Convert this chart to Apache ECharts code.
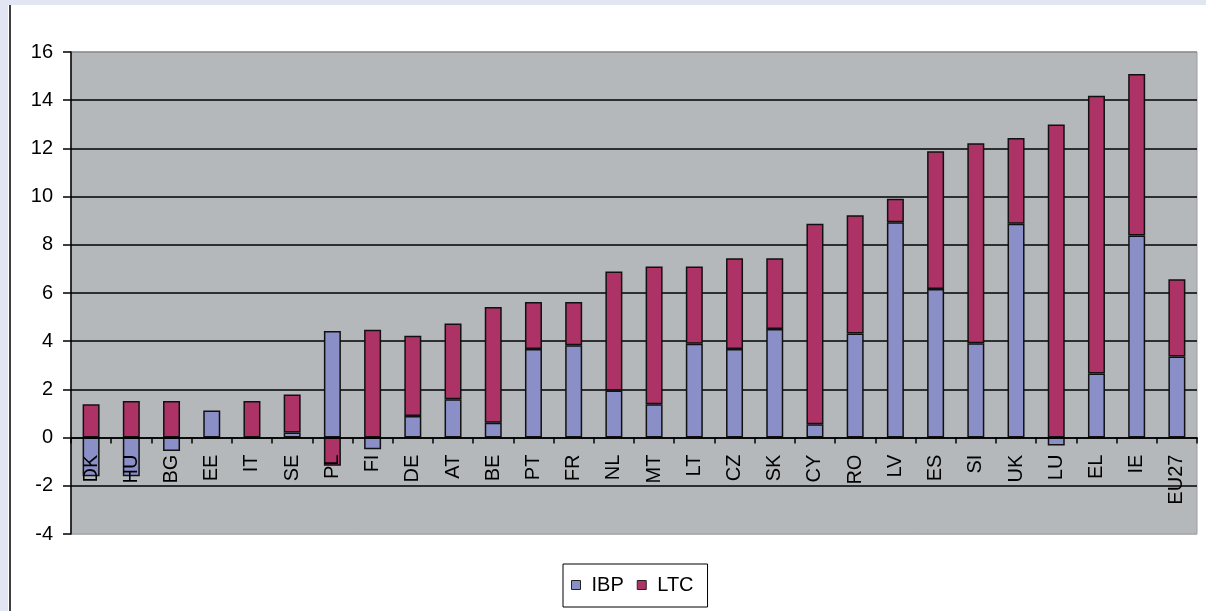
<!DOCTYPE html>
<html>
<head>
<meta charset="utf-8">
<script src="https://cdn.jsdelivr.net/npm/echarts@6/dist/echarts.min.js"></script>
<style>
html,body{margin:0;padding:0;background:#fff;}
#c{width:1206px;height:611px;}
</style>
</head>
<body>
<div id="c"></div>
<script>
const categories = ['DK','HU','BG','EE','IT','SE','PL','FI','DE','AT','BE','PT','FR','NL','MT','LT','CZ','SK','CY','RO','LV','ES','SI','UK','LU','EL','IE','EU27'];
const ibp = [-1.6,-1.6,-0.56,1.12,-0.06,0.21,4.42,-0.48,0.9,1.59,0.62,3.68,3.83,1.95,1.38,3.89,3.68,4.51,0.55,4.32,8.94,6.17,3.91,8.87,-0.33,2.66,8.39,3.37];
const ltc = [1.38,1.52,1.52,-0.06,1.52,1.58,-1.17,4.48,3.33,3.14,4.8,1.95,1.8,4.94,5.72,3.21,3.76,2.93,8.32,4.91,0.97,5.71,8.3,3.56,12.99,11.52,6.7,3.2];
const yTicks = {min:-4, max:16, interval:2};

const chart = echarts.init(document.getElementById('c'), null, {renderer:'canvas'});
const font = '"Liberation Sans", Arial, sans-serif';
const gridColors = ['#a9acaf','#000','#000','#000','#000','#000','#000','#000','#000','#000','#8d8f92'];
const gridTop = 52, gridBottom = 77, H = 611;
const plotH = H - gridTop - gridBottom;
const zeroOffset = -plotH * (0 - yTicks.min) / (yTicks.max - yTicks.min);
chart.setOption({
  backgroundColor:'#ffffff',
  animation:false,
  graphic:[
    {type:'rect', shape:{x:0,y:0,width:1206,height:5}, style:{fill:'#e1e6f2'}, silent:true},
    {type:'rect', shape:{x:0,y:0,width:8,height:611}, style:{fill:'#e1e6f2'}, silent:true},
    {type:'line', shape:{x1:10,y1:5,x2:10,y2:611}, style:{stroke:'#000',lineWidth:1.5}, silent:true}
  ],
  grid:{left:71, right:9, top:gridTop, bottom:gridBottom, show:true, backgroundColor:'#b5b8bb', borderColor:'#9a9c9f', borderWidth:1},
  legend:{
    data:['IBP','LTC'], left:563, top:564, orient:'horizontal',
    backgroundColor:'#fff', borderColor:'#000', borderWidth:1,
    padding:[11,14,12,8], itemGap:13, itemWidth:9, itemHeight:9, icon:'rect',
    itemStyle:{borderColor:'#222', borderWidth:1},
    textStyle:{fontFamily:font, fontSize:20, color:'#000', padding:[0,0,0,6]}
  },
  xAxis:{
    type:'category', data:categories, z:3, position:'bottom', offset:zeroOffset,
    axisLine:{show:true, onZero:false, lineStyle:{color:'#000', width:1.5}},
    axisTick:{show:true, length:6, lineStyle:{color:'#000', width:1.5}},
    axisLabel:{rotate:90, margin:17, fontFamily:font, fontSize:20, color:'#000', interval:0},
    splitLine:{show:false}
  },
  yAxis:{
    type:'value', min:yTicks.min, max:yTicks.max, interval:yTicks.interval,
    axisLine:{show:true, lineStyle:{color:'#000', width:1.5}},
    axisTick:{show:true, length:8, lineStyle:{color:'#000', width:1.5}},
    axisLabel:{fontFamily:font, fontSize:20, color:'#000', margin:18},
    splitLine:{show:true, lineStyle:{color:gridColors, width:1.5}}
  },
  series:[
    {name:'IBP', type:'bar', stack:'s', data:ibp, barWidth:17,
     itemStyle:{color:'#8b8fc7', borderColor:'#111', borderWidth:1.5}},
    {name:'LTC', type:'bar', stack:'s', data:ltc, barWidth:17,
     itemStyle:{color:'#ad3366', borderColor:'#111', borderWidth:1.5}}
  ]
});
</script>
</body>
</html>
